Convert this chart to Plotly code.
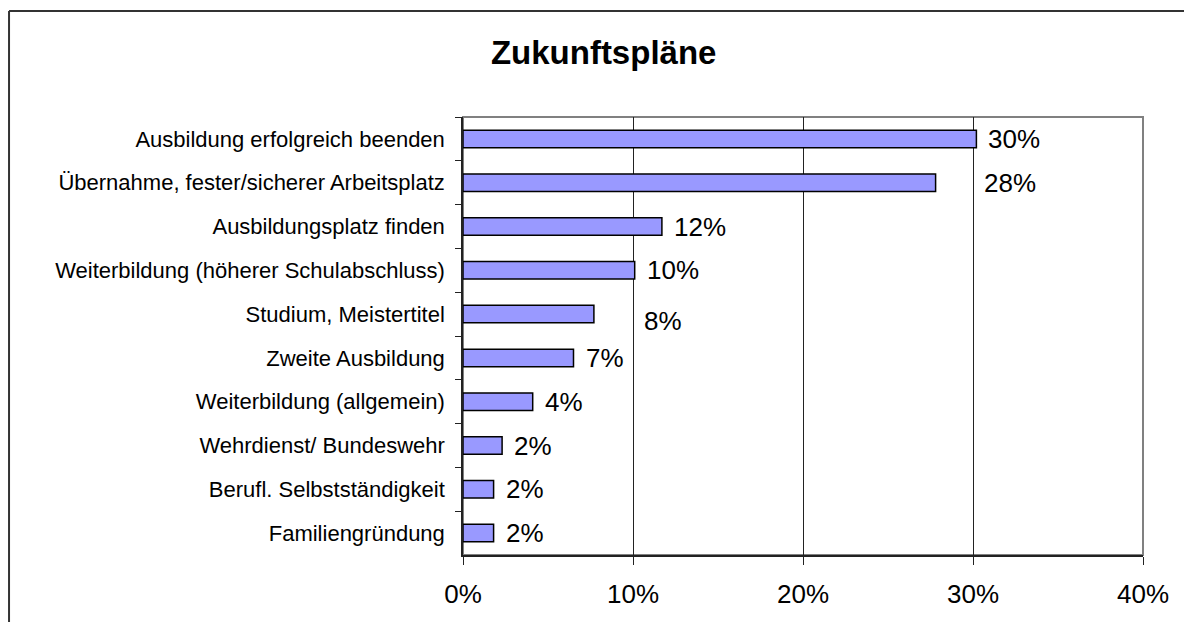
import plotly.graph_objects as go

# ---- data ----
categories = [
    "Ausbildung erfolgreich beenden",
    "Übernahme, fester/sicherer Arbeitsplatz",
    "Ausbildungsplatz finden",
    "Weiterbildung (höherer Schulabschluss)",
    "Studium, Meistertitel",
    "Zweite Ausbildung",
    "Weiterbildung (allgemein)",
    "Wehrdienst/ Bundeswehr",
    "Berufl. Selbstständigkeit",
    "Familiengründung",
]
values = [30.2, 27.8, 11.7, 10.1, 7.7, 6.5, 4.1, 2.3, 1.8, 1.8]
value_labels = ["30%", "28%", "12%", "10%", "8%", "7%", "4%", "2%", "2%", "2%"]
x_tick_values = [0, 10, 20, 30, 40]
x_tick_labels = ["0%", "10%", "20%", "30%", "40%"]

# ---- styling ----
FONT = "Arial, 'Liberation Sans', sans-serif"
BAR_COLOR = "#9999FF"
# per-label pixel offsets (labels moved manually in the original)
label_xshift = [10, 46, 10, 10, 48, 10, 10, 10, 10, 10]
label_yshift = [0, 0, 0, 0, -7, 0, 0, 0, 0, 0]

fig = go.Figure()
fig.add_trace(go.Bar(
    x=values,
    y=categories,
    orientation="h",
    marker=dict(color=BAR_COLOR, line=dict(color="black", width=1.5)),
    hoverinfo="skip",
))

for c, v, t, xs, ys in zip(categories, values, value_labels, label_xshift, label_yshift):
    fig.add_annotation(
        x=v, y=c, text=t, showarrow=False, xanchor="left", yanchor="middle",
        xshift=xs, yshift=ys, font=dict(family=FONT, size=26, color="black"),
    )

# outer chart frame (only left and top edges are visible in the original)
FRAME_X = -0.6676
FRAME_Y = 1.242
fig.add_shape(type="line", xref="paper", yref="paper",
              x0=FRAME_X, x1=FRAME_X, y0=-0.5, y1=FRAME_Y,
              line=dict(color="#333333", width=2), layer="below")
fig.add_shape(type="line", xref="paper", yref="paper",
              x0=FRAME_X, x1=1.2, y0=FRAME_Y, y1=FRAME_Y,
              line=dict(color="#333333", width=2), layer="below")
# plot area border (gray, top & right)
fig.add_shape(type="rect", xref="paper", yref="paper",
              x0=0, x1=1, y0=0, y1=1,
              line=dict(color="#808080", width=2), layer="below")

fig.update_layout(
    width=1184, height=614,
    margin=dict(l=455, r=49, t=109, b=67),
    paper_bgcolor="white", plot_bgcolor="white",
    showlegend=False,
    bargap=0.6,
    title=dict(text="<b>Zukunftspläne</b>", x=0.5031, xanchor="center",
               y=0.9275, yanchor="middle",
               font=dict(family=FONT, size=33, color="black")),
    xaxis=dict(
        range=[0, 40], tickvals=x_tick_values, ticktext=x_tick_labels,
        showgrid=True, gridcolor="#222222", gridwidth=1,
        showline=True, linecolor="#222222", linewidth=1.5,
        ticks="outside", ticklen=8, tickcolor="#222222",
        tickfont=dict(family=FONT, size=26, color="black"),
        ticklabelstandoff=7, zeroline=False, fixedrange=True,
    ),
    yaxis=dict(
        autorange="reversed", showgrid=False,
        showline=True, linecolor="#222222", linewidth=1.5,
        ticks="outside", ticklen=6, tickcolor="#222222", tickson="boundaries",
        tickfont=dict(family=FONT, size=22, color="black"),
        ticklabelstandoff=12, fixedrange=True,
    ),
)

fig.write_html(
    "out.html",
    post_script="document.documentElement.style.overflow='hidden';"
                "document.body.style.overflow='hidden';",
)
